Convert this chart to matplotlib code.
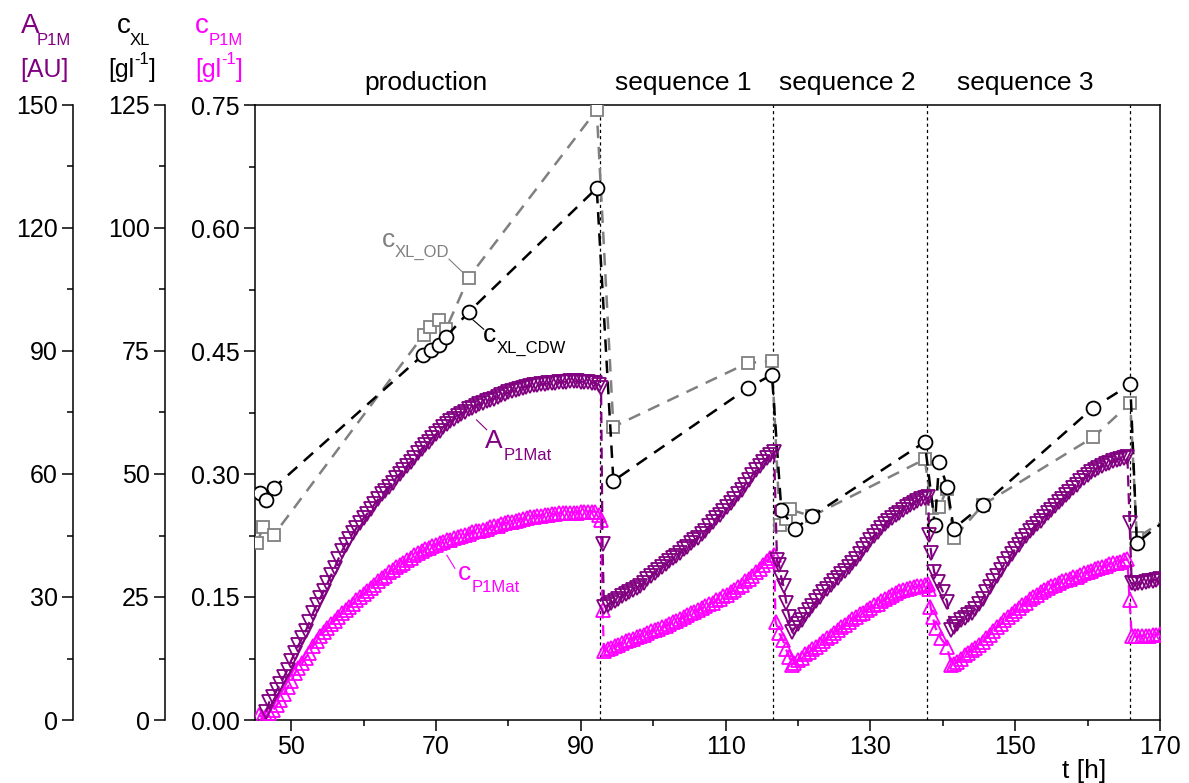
import numpy as np
import matplotlib
matplotlib.use("Agg")
import matplotlib.pyplot as plt
from matplotlib.ticker import FixedLocator, MultipleLocator, FormatStrFormatter
from matplotlib import rcParams
rcParams.update({'font.family': 'Liberation Sans', 'mathtext.default': 'regular'})

PURPLE = "#800080"
MAGENTA = "#FF00FF"
GREY = "#808080"
STEP = 0.5  # sampling interval of the online signals [h]

# A_P1Mat [AU], sampled every 0.5 h from each segment start
a_prod = [2.0, 4.5, 5.7, 7.2, 8.8, 10.5, 12.3, 14.5, 16.4, 18.2, 19.9, 21.7, 23.8, 26.0, 28.0,
          29.7, 31.4, 33.3, 35.3, 37.1, 39.2, 41.2, 42.8, 44.2, 45.5, 46.8, 48.0, 49.2, 50.3,
          51.4, 52.6, 53.8, 55.0, 55.9, 56.9, 57.9, 59.0, 60.0, 61.0, 62.0, 63.0, 64.0, 65.0,
          66.1, 67.0, 67.9, 68.8, 69.7, 70.6, 71.5, 72.2, 72.9, 73.5, 74.1, 74.7, 75.2, 75.8,
          76.2, 76.6, 77.0, 77.4, 77.7, 78.0, 78.4, 78.8, 79.2, 79.5, 79.9, 80.2, 80.5, 80.8,
          81.0, 81.3, 81.5, 81.7, 81.8, 81.9, 82.0, 82.1, 82.2, 82.3, 82.4, 82.5, 82.5, 82.6,
          82.6, 82.6, 82.5, 82.5, 82.4, 82.3, 82.2, 81.8]
a_drop1_t = [92.8, 93.0]
a_drop1 = [81.0, 43.0]
a_seq1 = [27.6, 28.0, 28.5, 29.0, 29.6, 30.2, 30.8, 31.3, 31.7, 32.1, 32.7, 33.5, 34.3, 35.1,
          35.9, 36.6, 37.3, 38.0, 38.7, 39.4, 40.1, 40.8, 41.6, 42.3, 43.1, 43.8, 44.5, 45.3,
          46.2, 47.2, 48.2, 49.2, 50.1, 51.0, 52.0, 52.9, 54.0, 55.0, 56.2, 57.4, 58.5, 59.7,
          60.9, 62.0, 63.0, 63.9, 64.7, 65.4]
a_drop2_t = [117.1, 117.4, 117.7, 118.0, 118.4, 118.8, 119.2]
a_drop2 = [39.0, 37.7, 34.7, 32.6, 28.5, 25.2, 21.5]
a_seq2 = [22.4, 23.4, 24.5, 25.7, 26.8, 27.9, 29.0, 30.0, 31.1, 32.0, 32.9, 33.8, 34.6, 35.5,
          36.4, 37.2, 38.2, 39.3, 40.5, 41.7, 42.8, 43.9, 45.0, 45.9, 46.8, 47.7, 48.6, 49.3,
          49.9, 50.6, 51.3, 51.9, 52.4, 52.9, 53.4, 53.8, 54.1, 54.3]
a_drop3_t = [138.1, 138.4, 138.8, 139.4, 140.0, 140.6, 141.1]
a_drop3 = [45.1, 40.7, 36.2, 33.7, 31.3, 28.9, 22.0]
a_seq3 = [22.6, 23.5, 24.4, 25.0, 25.6, 26.2, 27.0, 28.2, 29.6, 31.1, 32.5, 33.8, 35.2, 36.6,
          38.0, 39.2, 40.5, 41.7, 42.8, 43.9, 45.0, 46.0, 46.9, 47.8, 48.6, 49.5, 50.4, 51.3,
          52.2, 53.1, 53.9, 54.8, 55.6, 56.5, 57.4, 58.3, 59.0, 59.7, 60.4, 61.0, 61.5, 62.0,
          62.4, 62.8, 63.1, 63.4, 63.7, 63.9, 64.1]
a_drop4_t = [165.8, 166.1]
a_drop4 = [48.0, 33.3]
a_post = [33.2, 33.3, 33.4, 33.6, 33.8, 34.0, 34.2, 34.4]

# c_P1Mat [g/l]
c_prod = [0.006, 0.004, 0.005, 0.008, 0.012, 0.018, 0.025, 0.032, 0.040, 0.048, 0.057, 0.063,
          0.069, 0.076, 0.082, 0.090, 0.096, 0.102, 0.107, 0.112, 0.117, 0.121, 0.126, 0.130,
          0.134, 0.138, 0.142, 0.146, 0.150, 0.154, 0.157, 0.161, 0.165, 0.169, 0.173, 0.176,
          0.180, 0.183, 0.186, 0.189, 0.192, 0.195, 0.198, 0.201, 0.204, 0.206, 0.208, 0.210,
          0.212, 0.214, 0.216, 0.217, 0.219, 0.220, 0.222, 0.223, 0.225, 0.226, 0.227, 0.229,
          0.230, 0.231, 0.232, 0.233, 0.235, 0.236, 0.237, 0.239, 0.240, 0.241, 0.242, 0.243,
          0.244, 0.245, 0.246, 0.247, 0.248, 0.249, 0.249, 0.250, 0.250, 0.251, 0.251, 0.252,
          0.252, 0.252, 0.253, 0.253, 0.253, 0.254, 0.254, 0.254, 0.254, 0.254, 0.250]
c_drop1_t = [92.8, 93.0]
c_drop1 = [0.244, 0.134]
c_seq1 = [0.084, 0.086, 0.088, 0.090, 0.092, 0.094, 0.096, 0.098, 0.099, 0.101, 0.103, 0.104,
          0.106, 0.108, 0.110, 0.111, 0.113, 0.115, 0.117, 0.119, 0.121, 0.123, 0.126, 0.128,
          0.130, 0.132, 0.134, 0.136, 0.139, 0.141, 0.143, 0.146, 0.148, 0.151, 0.153, 0.156,
          0.159, 0.162, 0.165, 0.169, 0.172, 0.176, 0.180, 0.184, 0.189, 0.194, 0.198, 0.201]
c_drop2_t = [116.9, 117.4, 117.9, 118.3, 118.8, 119.2]
c_drop2 = [0.120, 0.106, 0.098, 0.087, 0.077, 0.067]
c_seq2 = [0.069, 0.073, 0.076, 0.080, 0.083, 0.086, 0.089, 0.093, 0.096, 0.100, 0.103, 0.106,
          0.110, 0.113, 0.116, 0.119, 0.123, 0.126, 0.129, 0.131, 0.134, 0.137, 0.140, 0.142,
          0.145, 0.147, 0.150, 0.152, 0.155, 0.157, 0.158, 0.160, 0.161, 0.162, 0.163, 0.164,
          0.165, 0.166]
c_drop3_t = [138.1, 138.3, 138.6, 139.0, 139.7, 140.6, 141.2]
c_drop3 = [0.160, 0.138, 0.126, 0.112, 0.100, 0.089, 0.067]
c_seq3 = [0.068, 0.071, 0.075, 0.079, 0.082, 0.085, 0.088, 0.091, 0.095, 0.100, 0.104, 0.108,
          0.113, 0.117, 0.122, 0.126, 0.129, 0.133, 0.136, 0.140, 0.143, 0.147, 0.150, 0.153,
          0.156, 0.159, 0.161, 0.163, 0.165, 0.167, 0.169, 0.171, 0.172, 0.174, 0.175, 0.177,
          0.179, 0.180, 0.182, 0.184, 0.185, 0.187, 0.188, 0.190, 0.191, 0.192, 0.193, 0.195,
          0.196]
c_drop4_t = [165.8, 166.1]
c_drop4 = [0.146, 0.102]
c_post = [0.102, 0.102, 0.102, 0.103, 0.103, 0.104, 0.104, 0.105]

# offline biomass c_XL [g/l]
cdw_t = [45.7, 46.5, 47.6, 68.2, 69.3, 70.4, 71.4, 74.5, 92.2, 94.5, 113.1, 116.4, 117.7,
         119.6, 121.9, 137.5, 138.9, 139.5, 140.6, 141.5, 145.6, 160.8, 165.9, 166.8, 171.5]
cdw = [46.1, 44.7, 47.2, 74.2, 75.2, 76.2, 77.9, 82.9, 108.1, 48.6, 67.5, 70.2, 42.6,
       38.9, 41.4, 56.5, 39.7, 52.4, 47.4, 38.9, 43.8, 63.5, 68.2, 36.0, 41.5]
od_t = [45.3, 46.1, 47.6, 68.3, 69.2, 70.4, 71.4, 74.5, 92.2, 94.5, 113.1, 116.4, 117.5,
        118.4, 118.9, 121.9, 137.5, 138.5, 139.5, 140.6, 141.5, 145.6, 160.8, 165.9, 166.8, 171.5]
od = [36.0, 39.2, 37.6, 78.3, 79.8, 81.2, 79.5, 89.9, 124.0, 59.6, 72.6, 72.9, 39.7,
      40.9, 42.8, 41.4, 53.0, 43.0, 43.3, 47.0, 37.0, 43.8, 57.5, 64.4, 37.0, 41.5]

# phase borders and names
phase_borders = [92.7, 116.5, 137.8, 165.8]
phase_names = ["production", "sequence 1", "sequence 2", "sequence 3"]
phase_centers = [68.6, 104.2, 126.8, 151.4]


def seg(t0, vals):
    return list(t0 + STEP * np.arange(len(vals)))


a_t = (seg(46.5, a_prod) + a_drop1_t + seg(93.2, a_seq1) + a_drop2_t + seg(119.5, a_seq2)
       + a_drop3_t + seg(141.5, a_seq3) + a_drop4_t + seg(166.5, a_post))
a_v = a_prod + a_drop1 + a_seq1 + a_drop2 + a_seq2 + a_drop3 + a_seq3 + a_drop4 + a_post
c_t = (seg(45.5, c_prod) + c_drop1_t + seg(93.2, c_seq1) + c_drop2_t + seg(119.5, c_seq2)
       + c_drop3_t + seg(141.5, c_seq3) + c_drop4_t + seg(166.5, c_post))
c_v = c_prod + c_drop1 + c_seq1 + c_drop2 + c_seq2 + c_drop3 + c_seq3 + c_drop4 + c_post

W, H = 1189, 783
fig = plt.figure(figsize=(W / 100, H / 100), dpi=100)
ax = fig.add_axes([255 / W, 1 - 720 / H, 905 / W, 615 / H])
ax_xl = ax.twinx()
ax_a = ax.twinx()

ax.set_xlim(45, 170)
ax.set_ylim(0, 0.75)
ax_xl.set_ylim(0, 125)
ax_a.set_ylim(0, 150)

for a in (ax, ax_xl, ax_a):
    for s in a.spines.values():
        s.set_linewidth(1.1)

for twin, pos in ((ax_xl, -0.0994), (ax_a, -0.2011)):
    twin.spines['left'].set_position(('axes', pos))
    twin.spines['left'].set_visible(True)
    for s in ('right', 'top', 'bottom'):
        twin.spines[s].set_visible(False)
    twin.yaxis.set_ticks_position('left')
    twin.yaxis.set_label_position('left')

ax.yaxis.set_major_locator(MultipleLocator(0.15))
ax.yaxis.set_minor_locator(MultipleLocator(0.075))
ax.yaxis.set_major_formatter(FormatStrFormatter('%.2f'))
ax_xl.yaxis.set_major_locator(MultipleLocator(25))
ax_xl.yaxis.set_minor_locator(MultipleLocator(12.5))
ax_a.yaxis.set_major_locator(MultipleLocator(30))
ax_a.yaxis.set_minor_locator(MultipleLocator(15))
ax.xaxis.set_major_locator(FixedLocator([50, 70, 90, 110, 130, 150, 170]))
ax.xaxis.set_minor_locator(FixedLocator([60, 80, 100, 120, 140, 160]))

for a in (ax, ax_xl, ax_a):
    a.tick_params(which='major', direction='out', length=8, width=1.1, labelsize=18, pad=3)
    a.tick_params(which='minor', direction='out', length=4, width=1.1)
ax.tick_params(right=False, top=False, which='both')

# phase borders
for b in phase_borders:
    ax.axvline(b, color='black', lw=0.9, ls=(0, (2.5, 2.5)), zorder=1)

# product
ax.plot(c_t, c_v, color=MAGENTA, lw=1.6, ls=(0, (5, 3)), marker='^', ms=10,
        mfc='none', mec=MAGENTA, mew=1.3, zorder=3)
# biomass
ax_xl.plot(od_t, od, color=GREY, lw=1.8, ls=(0, (5, 3.5)), marker='s', ms=8.5,
           mfc='white', mec=GREY, mew=1.3, zorder=4)
ax_xl.plot(cdw_t, cdw, color='black', lw=1.8, ls=(0, (5, 3.5)), marker='o', ms=10,
           mfc='white', mec='black', mew=1.3, zorder=5)
# activity
ax_a.plot(a_t, a_v, color=PURPLE, lw=1.6, ls=(0, (5, 3)), marker='v', ms=10,
          mfc='none', mec=PURPLE, mew=1.3, zorder=3)

# phase names
for name, xc in zip(phase_names, phase_centers):
    ax.text(xc, 1.0244, name, transform=ax.get_xaxis_transform(), ha='center',
            va='baseline', fontsize=19)

# curve labels with leader lines
def label(x, y, big, sub, xs, ys, color, lx, ly):
    ax.text(x, y, big, color=color, fontsize=19, va='baseline', ha='left')
    ax.text(xs, ys, sub, color=color, fontsize=12, va='baseline', ha='left')
    ax.plot(lx, ly, color=color, lw=0.8, zorder=6)

label(62.5, 0.577, "c", "XL_OD", 64.3, 0.565, GREY, [71.8, 73.8], [0.562, 0.545])
label(76.5, 0.461, "c", "XL_CDW", 78.4, 0.4476, 'black', [75.1, 76.6], [0.488, 0.4765])
label(76.8, 0.3313, "A", "P1Mat", 79.3, 0.317, PURPLE, [75.6, 77.0], [0.366, 0.354])
label(73.0, 0.1707, "c", "P1Mat", 74.9, 0.156, MAGENTA, [71.5, 72.6], [0.201, 0.185])

# axis headers
def ftext(x, y, s, **kw):
    fig.text(x / W, 1 - y / H, s, va='baseline', ha='left', **kw)

ftext(21, 33, "A", color=PURPLE, fontsize=20)
ftext(37, 45, "P1M", color=PURPLE, fontsize=12)
ftext(20, 77, "[AU]", color=PURPLE, fontsize=18)
ftext(117, 33, "c", color='black', fontsize=20)
ftext(130, 45, "XL", color='black', fontsize=12)
ftext(195, 33, "c", color=MAGENTA, fontsize=20)
ftext(209, 45, "P1M", color=MAGENTA, fontsize=12)
for x0, col in ((108, 'black'), (195, MAGENTA)):
    ftext(x0, 77, "[gl", color=col, fontsize=18)
    ftext(x0 + 26, 64, "-1", color=col, fontsize=12)
    ftext(x0 + 41, 77, "]", color=col, fontsize=18)
ftext(1062, 778, "t [h]", color='black', fontsize=19)

fig.savefig("out.png", dpi=100)
